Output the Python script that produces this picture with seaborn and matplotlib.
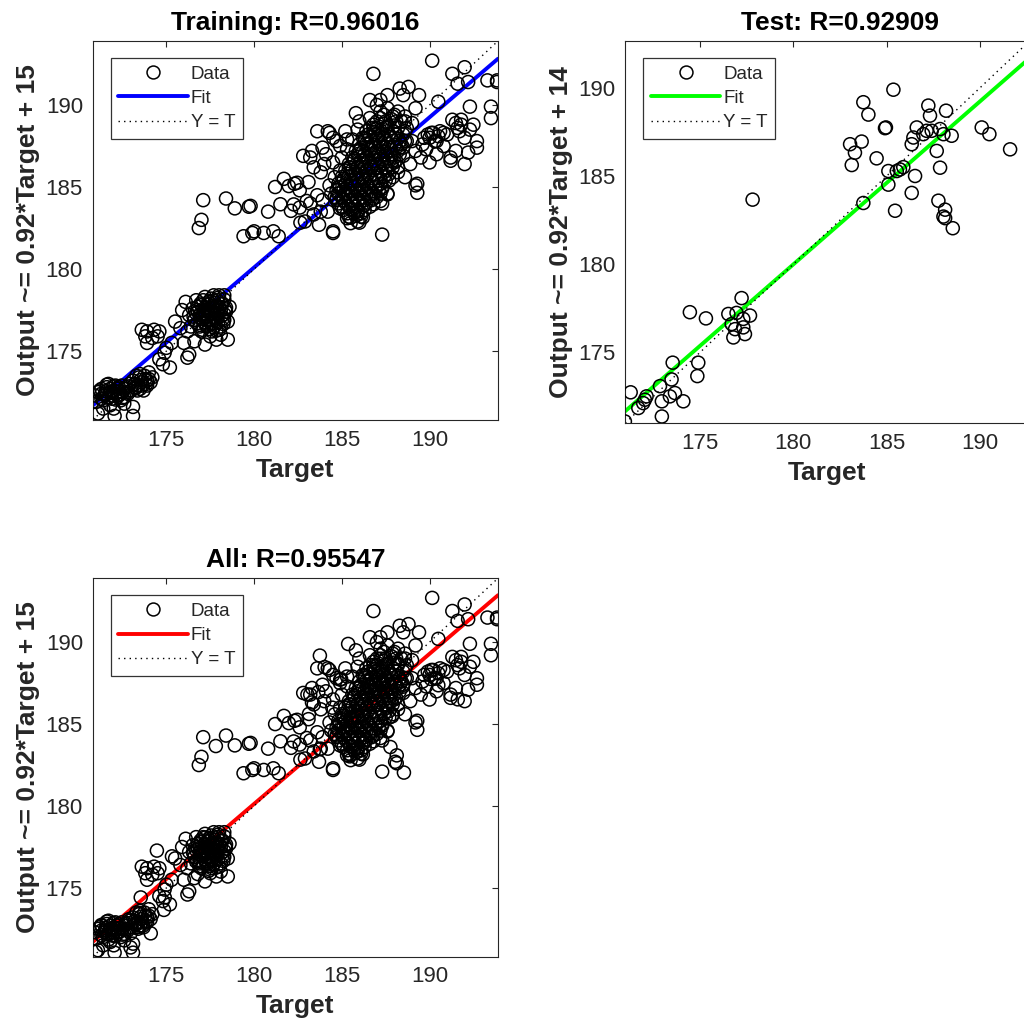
#!/usr/bin/env python
# coding: utf-8

import numpy as np
import pandas as pd
import matplotlib
matplotlib.use('Agg')
import matplotlib.pyplot as plt
from matplotlib.lines import Line2D
import seaborn as sns

sns.set_theme(style="white")
plt.rcParams['font.family'] = ['Liberation Sans', 'DejaVu Sans']

# (target, output) pairs, grouped by region
train_low = [
    (170.9, 172.3), (171.0, 171.9), (171.1, 171.2), (171.2, 172.6), (171.4, 172.0), (171.5, 172.4),
    (171.7, 173.0), (171.8, 172.5), (171.9, 172.1), (172.0, 172.6), (172.0, 171.5), (172.05, 171.05),
    (172.2, 172.3), (172.3, 172.8), (172.4, 172.0), (172.5, 172.5), (172.6, 172.2), (172.7, 172.8),
    (172.8, 172.4), (172.9, 173.0), (173.0, 172.6), (173.1, 173.2), (173.1, 171.6), (173.1, 171.05),
    (173.2, 172.8), (173.3, 173.5), (173.4, 172.9), (173.5, 173.6), (173.6, 173.1), (173.7, 172.6),
    (173.8, 173.3), (173.9, 172.9), (174.0, 173.7), (174.1, 173.1), (174.2, 173.4), (171.6, 172.8),
    (171.3, 172.4), (172.1, 172.9), (173.2, 173.0), (173.5, 172.7), (171.8, 171.7), (172.3, 172.3),
    (171.3, 172.1), (171.7, 172.15), (172.1, 172.05), (172.5, 172.15), (171.1, 172.5), (171.55, 172.55),
    (171.95, 172.45), (172.35, 172.55), (172.75, 172.5), (171.6, 172.95), (172.0, 172.85), (172.45, 172.9),
    (172.85, 172.85), (173.25, 172.75), (173.55, 173.25), (173.85, 173.0), (173.45, 173.4), (173.75, 173.5),
    (174.0, 173.3), (173.35, 172.6), (171.4, 171.5), (172.6, 171.8),
    (171.5, 172.3), (171.9, 172.3), (172.3, 172.35), (171.3, 172.7), (171.8, 172.7), (172.2, 172.7),
    (172.6, 172.7), (173.6, 172.9), (173.9, 173.2),
]
train_mid = [
    (174.8, 174.2), (174.9, 174.9), (175.3, 175.5), (175.5, 176.8), (175.8, 176.4), (176.2, 174.6),
    (175.0, 175.2), (174.6, 174.5), (175.2, 174.0),
    (173.6, 176.3), (173.9, 176.2), (174.3, 176.3), (174.6, 176.2), (173.8, 175.9), (174.2, 175.8),
    (173.9, 175.5), (174.5, 175.9),
    (176.1, 178.0), (176.3, 177.2), (176.5, 177.6), (176.6, 176.9), (176.7, 178.1), (176.8, 177.4),
    (176.9, 176.6), (177.0, 177.8), (177.0, 176.2), (177.1, 177.1), (177.2, 178.3), (177.3, 177.5),
    (177.3, 176.5), (177.4, 176.9), (177.5, 177.9), (177.5, 175.9), (177.6, 177.3), (177.7, 178.4),
    (177.7, 176.7), (177.8, 177.7), (177.9, 177.0), (178.0, 178.4), (178.0, 176.3), (178.1, 177.5),
    (178.2, 177.9), (178.3, 176.9), (178.4, 177.4), (178.5, 176.8), (178.6, 177.7), (178.5, 175.7),
    (177.85, 175.7), (176.2, 176.2), (175.9, 177.5), (176.4, 176.5), (176.0, 175.5), (176.3, 174.8),
    (176.6, 175.6), (177.2, 175.4), (178.3, 178.4), (177.4, 178.0), (176.9, 177.2), (177.6, 176.2),
    (178.1, 176.0),
    (177.05, 176.3), (177.45, 176.35), (177.85, 176.25), (176.75, 176.7), (177.15, 176.75), (177.55, 176.65),
    (177.95, 176.75), (178.25, 176.65), (176.55, 177.1), (176.95, 177.05), (177.35, 177.15), (177.75, 177.05),
    (178.15, 177.15), (176.75, 177.5), (177.15, 177.45), (177.55, 177.55), (177.95, 177.45), (178.35, 177.55),
    (176.95, 177.9), (177.35, 177.85), (177.75, 177.95), (178.15, 177.85), (177.55, 178.2), (177.95, 178.25),
    (176.9, 176.5), (177.3, 176.55), (177.7, 176.45), (178.1, 176.5), (176.6, 176.9), (177.0, 176.95),
    (177.4, 176.85), (177.8, 176.9), (178.2, 176.95), (176.7, 177.3), (177.1, 177.25), (177.5, 177.35),
    (177.9, 177.3), (178.3, 177.25), (176.8, 177.7), (177.2, 177.65), (177.6, 177.75), (178.0, 177.7),
    (178.4, 177.65), (177.1, 178.1), (177.5, 178.05), (177.9, 178.1), (178.3, 178.15),
]
train_arm = [
    (177.1, 184.2), (177.0, 183.0), (176.85, 182.5), (178.4, 184.3), (178.9, 183.7), (179.7, 183.8),
    (179.4, 182.0), (179.9, 182.2), (180.0, 182.3), (179.8, 183.85), (180.55, 182.2), (181.1, 182.3),
    (181.4, 182.0), (180.8, 183.5), (181.5, 183.95), (182.1, 183.55), (182.6, 183.75), (183.8, 183.5),
    (182.9, 182.9), (183.7, 182.7), (184.5, 182.3), (181.7, 185.5), (181.2, 185.0), (182.3, 185.2),
    (182.6, 184.8), (183.1, 185.3), (183.6, 184.5), (183.2, 184.0), (182.8, 186.9), (183.3, 187.2),
    (183.9, 187.4), (183.4, 186.2), (183.2, 186.8), (183.6, 188.4), (184.3, 188.3), (184.7, 187.8),
    (181.98, 185.06), (182.45, 185.26), (183.0, 184.15), (182.26, 183.94), (182.64, 182.83),
    (183.4, 183.33), (184.2, 183.5), (184.9, 183.7),
]
train_upper = [
    (184.8, 185.0), (184.9, 186.0), (185.0, 186.8), (185.1, 185.5), (185.2, 184.6), (185.3, 187.3),
    (185.4, 186.2), (185.5, 185.2), (185.6, 187.9), (185.6, 184.2), (185.7, 186.7), (185.8, 185.8),
    (185.9, 188.5), (185.9, 183.5), (186.0, 187.2), (186.1, 186.2), (186.1, 184.8), (186.2, 185.5),
    (186.3, 188.0), (186.3, 183.9), (186.4, 186.8), (186.5, 187.6), (186.5, 185.0), (186.6, 189.2),
    (186.7, 186.3), (186.8, 188.6), (186.8, 184.3), (186.9, 187.1), (187.0, 185.7), (187.1, 188.1),
    (187.2, 186.7), (187.2, 189.6), (187.3, 184.9), (187.4, 187.5), (187.5, 186.2), (187.6, 188.7),
    (187.7, 185.4), (187.8, 187.0), (187.9, 189.3), (188.0, 186.5), (188.1, 188.2), (188.2, 185.9),
    (188.3, 187.4), (188.4, 189.0), (188.5, 186.9), (188.6, 188.4), (188.7, 187.8), (188.9, 186.4),
    (189.0, 188.9), (185.3, 183.1), (185.5, 182.8), (185.9, 182.9), (186.1, 183.2), (185.0, 183.8),
    (184.6, 185.6), (184.5, 186.5), (184.3, 185.1), (184.7, 184.3), (185.2, 188.4), (186.0, 189.0),
    (186.6, 190.3), (187.0, 190.0), (185.8, 189.5), (184.9, 187.5), (187.6, 190.6), (188.3, 191.0),
    (188.8, 191.1), (188.5, 190.6), (189.4, 190.6), (187.2, 190.3), (187.6, 189.8), (188.2, 189.6),
    (188.6, 189.3), (189.2, 189.8), (190.5, 190.2), (186.8, 191.9), (190.15, 192.7), (184.2, 188.4),
    (184.5, 188.0), (185.3, 187.9), (184.1, 187.0), (184.0, 186.4), (183.8, 185.9), (184.4, 184.6),
    (183.9, 184.2), (187.3, 182.1), (189.2, 185.1), (189.3, 184.65), (187.6, 184.55), (187.2, 184.15),
    (185.9, 183.33), (186.0, 182.83), (185.5, 183.13), (184.5, 182.2), (187.6, 184.6), (187.9, 185.6),
    (187.3, 184.0), (188.2, 186.2), (189.3, 185.2), (188.6, 185.6),
]
# dense core of the upper cluster, row by row
train_core = [
    (185.4, 183.2), (185.8, 183.25), (186.2, 183.15),
    (185.1, 183.6), (185.5, 183.65), (185.9, 183.55), (186.3, 183.6),
    (184.8, 184.0), (185.2, 184.05), (185.6, 183.95), (186.0, 184.0), (186.4, 184.05), (186.8, 183.95),
    (184.6, 184.4), (185.0, 184.35), (185.4, 184.45), (185.8, 184.4), (186.2, 184.35), (186.6, 184.45),
    (187.0, 184.4),
    (184.7, 184.8), (185.1, 184.85), (185.5, 184.75), (185.9, 184.8), (186.3, 184.85), (186.7, 184.75),
    (187.1, 184.8),
    (184.8, 185.2), (185.2, 185.15), (185.6, 185.25), (186.0, 185.2), (186.4, 185.15), (186.8, 185.25),
    (187.2, 185.2),
    (185.0, 185.6), (185.4, 185.65), (185.8, 185.55), (186.2, 185.6), (186.6, 185.65), (187.0, 185.55),
    (187.4, 185.6),
    (185.2, 186.0), (185.6, 186.05), (186.0, 185.95), (186.4, 186.0), (186.8, 186.05), (187.2, 185.95),
    (187.6, 186.0),
    (185.4, 186.4), (185.8, 186.35), (186.2, 186.45), (186.6, 186.4), (187.0, 186.35), (187.4, 186.45),
    (187.8, 186.4),
    (185.6, 186.8), (186.0, 186.85), (186.4, 186.75), (186.8, 186.8), (187.2, 186.85), (187.6, 186.75),
    (188.0, 186.8),
    (185.8, 187.2), (186.2, 187.15), (186.6, 187.25), (187.0, 187.2), (187.4, 187.15), (187.8, 187.25),
    (188.2, 187.2),
    (186.0, 187.6), (186.4, 187.65), (186.8, 187.55), (187.2, 187.6), (187.6, 187.65), (188.0, 187.55),
    (188.4, 187.6),
    (186.2, 188.0), (186.6, 188.05), (187.0, 187.95), (187.4, 188.0), (187.8, 188.05), (188.2, 187.95),
    (186.4, 188.4), (186.8, 188.35), (187.2, 188.45), (187.6, 188.4), (188.0, 188.35),
    (186.8, 188.8), (187.4, 188.85), (188.0, 188.75),
    (187.2, 189.2), (187.8, 189.15),
]
# second, staggered set of rows in the same core
train_core2 = [
    (185.3, 183.4), (185.7, 183.4), (186.1, 183.4),
    (185.0, 183.8), (185.4, 183.8), (185.8, 183.8), (186.2, 183.8), (186.6, 183.8),
    (184.7, 184.2), (185.1, 184.2), (185.5, 184.2), (185.9, 184.2), (186.3, 184.2), (186.7, 184.2),
    (184.8, 184.6), (185.2, 184.6), (185.6, 184.6), (186.0, 184.6), (186.4, 184.6), (186.8, 184.6),
    (187.2, 184.6),
    (184.9, 185.0), (185.3, 185.0), (185.7, 185.0), (186.1, 185.0), (186.5, 185.0), (186.9, 185.0),
    (187.3, 185.0),
    (185.1, 185.4), (185.5, 185.4), (185.9, 185.4), (186.3, 185.4), (186.7, 185.4), (187.1, 185.4),
    (187.5, 185.4),
    (185.3, 185.8), (185.7, 185.8), (186.1, 185.8), (186.5, 185.8), (186.9, 185.8), (187.3, 185.8),
    (187.7, 185.8),
    (185.5, 186.2), (185.9, 186.2), (186.3, 186.2), (186.7, 186.2), (187.1, 186.2), (187.5, 186.2),
    (187.9, 186.2),
    (185.7, 186.6), (186.1, 186.6), (186.5, 186.6), (186.9, 186.6), (187.3, 186.6), (187.7, 186.6),
    (188.1, 186.6),
    (185.9, 187.0), (186.3, 187.0), (186.7, 187.0), (187.1, 187.0), (187.5, 187.0), (187.9, 187.0),
    (188.3, 187.0),
    (186.1, 187.4), (186.5, 187.4), (186.9, 187.4), (187.3, 187.4), (187.7, 187.4), (188.1, 187.4),
    (188.5, 187.4),
    (186.3, 187.8), (186.7, 187.8), (187.1, 187.8), (187.5, 187.8), (187.9, 187.8), (188.3, 187.8),
    (188.6, 187.8),
    (186.5, 188.2), (186.9, 188.2), (187.3, 188.2), (187.7, 188.2), (188.1, 188.2), (188.5, 188.2),
    (186.6, 188.6), (187.0, 188.6), (187.5, 188.6), (188.2, 188.6), (188.7, 188.6),
    (187.0, 189.0), (187.5, 189.0), (188.1, 189.0), (188.6, 189.0),
    (187.4, 189.4), (188.0, 189.4),
]
train_right = [
    (191.3, 191.9), (192.0, 192.3), (191.6, 191.3), (192.2, 191.4), (193.3, 191.5), (193.85, 191.5),
    (193.85, 191.4), (192.3, 189.9), (193.5, 189.9), (193.5, 189.2), (191.3, 189.1), (191.8, 188.8),
    (192.3, 188.5), (192.0, 188.0), (191.0, 188.2), (190.2, 188.3), (189.7, 188.0), (190.3, 187.8),
    (192.7, 187.8), (192.7, 187.4), (190.4, 187.8), (190.8, 187.5), (191.2, 186.8), (192.0, 186.4),
    (192.2, 187.1), (190.0, 188.0), (189.9, 188.2), (190.6, 188.4), (191.6, 188.6), (191.2, 186.6),
    (190.4, 187.0), (190.0, 186.5), (189.5, 186.8), (189.8, 187.3), (191.5, 187.2), (192.5, 188.8),
    (190.1, 188.3), (190.5, 188.1), (190.8, 188.3), (191.5, 188.9), (191.8, 189.1), (191.7, 188.4),
    (189.6, 187.6), (189.2, 187.2), (189.0, 187.8),
]
test_points = [
    (185.36, 189.89), (183.75, 189.18), (184.02, 188.48), (184.96, 187.75), (184.91, 187.71),
    (183.04, 186.8), (183.66, 186.95), (183.3, 186.32), (183.13, 185.62), (184.46, 186.0),
    (187.23, 188.99), (187.32, 188.42), (188.18, 188.7), (186.61, 187.75), (186.96, 187.37),
    (187.41, 187.56), (187.86, 187.66), (188.04, 187.37), (188.48, 187.28), (186.34, 186.8),
    (187.68, 186.42), (187.86, 185.47), (185.09, 185.28), (185.54, 185.28), (185.89, 185.5),
    (186.52, 185.0), (185.09, 184.51), (186.34, 184.04), (183.75, 183.47), (185.45, 183.03),
    (187.77, 183.6), (188.13, 183.09), (188.04, 182.7), (188.13, 182.61), (188.54, 182.04),
    (190.09, 187.75), (190.5, 187.37), (191.61, 186.51), (177.82, 183.66), (177.23, 178.08),
    (176.52, 177.18), (176.96, 177.24), (177.68, 177.09), (177.32, 176.9), (176.7, 176.61),
    (176.88, 176.32), (177.32, 176.42), (176.79, 175.85), (177.41, 176.04), (174.46, 177.28),
    (175.32, 176.93), (174.91, 174.42), (174.86, 173.66), (173.54, 174.42), (173.48, 173.47),
    (172.86, 173.09), (173.66, 172.7), (173.39, 172.51), (174.11, 172.23), (172.96, 172.23),
    (172.05, 172.32), (172.14, 172.51), (171.96, 172.13), (171.29, 172.74), (171.7, 171.85),
    (172.96, 171.37), (170.98, 171.09), (185.71, 185.37), (187.14, 187.56), (186.43, 187.18),
]

# fit coefficients (slope, intercept) and axis ranges
train_fit = [0.915, 15.4]
test_fit = [0.924, 13.67]
all_fit = [0.916, 15.25]
train_lim = [170.8, 193.9]
test_lim = [171.0, 192.65]
all_lim = [170.8, 193.9]
tick_values = [175, 180, 185, 190]

GRAY = '#262626'


def MakePanel(ax, pts, fit, lim, color, title, ylab, title_x=0.5):
    df = pd.DataFrame(pts, columns=['Target', 'Output'])
    xs = np.array(lim)
    ax.plot(xs, fit[0] * xs + fit[1], color=color, lw=2.8, zorder=2)
    ax.plot(xs, xs, color='black', lw=1.0, ls=(0, (1, 3)), zorder=2)
    sns.scatterplot(data=df, x='Target', y='Output', ax=ax, marker='o', s=88,
                    linewidth=1.1, legend=False, zorder=3)
    pts_coll = ax.collections[-1]
    pts_coll.set_facecolor('none')
    pts_coll.set_edgecolor('black')
    ax.set_xlim(lim)
    ax.set_ylim(lim)
    ax.set_xticks(tick_values)
    ax.set_yticks(tick_values)
    ax.tick_params(direction='in', length=4, width=0.8, top=True, right=True,
                   labelsize=16, colors=GRAY, pad=7)
    for sp in ax.spines.values():
        sp.set_color(GRAY)
        sp.set_linewidth(0.8)
    ax.set_xlabel('Target', fontsize=19, fontweight='bold', color=GRAY, labelpad=5)
    ax.set_ylabel(ylab, fontsize=19, fontweight='bold', color=GRAY, labelpad=4)
    ax.set_title(title, fontsize=19, fontweight='bold', color='black', pad=8, x=title_x)
    handles = [
        Line2D([], [], marker='o', ls='none', mfc='none', mec='black', ms=9.3, mew=1.1),
        Line2D([], [], color=color, lw=2.8),
        Line2D([], [], color='black', lw=1.0, ls=(0, (1, 3))),
    ]
    leg = ax.legend(handles, ['Data', 'Fit', 'Y = T'], loc='upper left',
                    bbox_to_anchor=(0.045, 0.955), borderaxespad=0, fontsize=13.5,
                    handlelength=3.7, handletextpad=0.15, labelspacing=0.38,
                    borderpad=0.4, fancybox=False, framealpha=1, edgecolor='#333333')
    leg.get_frame().set_linewidth(0.9)
    for t in leg.get_texts():
        t.set_color(GRAY)


fig = plt.figure(figsize=(10.24, 10.30), dpi=100)
ax_train = fig.add_axes([0.0905, 0.5922, 0.3958, 0.368])
ax_test = fig.add_axes([0.6106, 0.5893, 0.3948, 0.3709])
ax_all = fig.add_axes([0.0905, 0.0711, 0.3958, 0.3675])

train_points = (train_low + train_mid + train_arm + train_upper + train_core
                + train_core2 + train_right)
all_points = train_points + test_points

MakePanel(ax_train, train_points, train_fit, train_lim, (0, 0, 1),
          'Training: R=0.96016', 'Output ~= 0.92*Target + 15')
MakePanel(ax_test, test_points, test_fit, test_lim, (0, 1, 0),
          'Test: R=0.92909', 'Output ~= 0.92*Target + 14', title_x=0.53)
MakePanel(ax_all, all_points, all_fit, all_lim, (1, 0, 0),
          'All: R=0.95547', 'Output ~= 0.92*Target + 15')

fig.savefig('out.png', dpi=100)
